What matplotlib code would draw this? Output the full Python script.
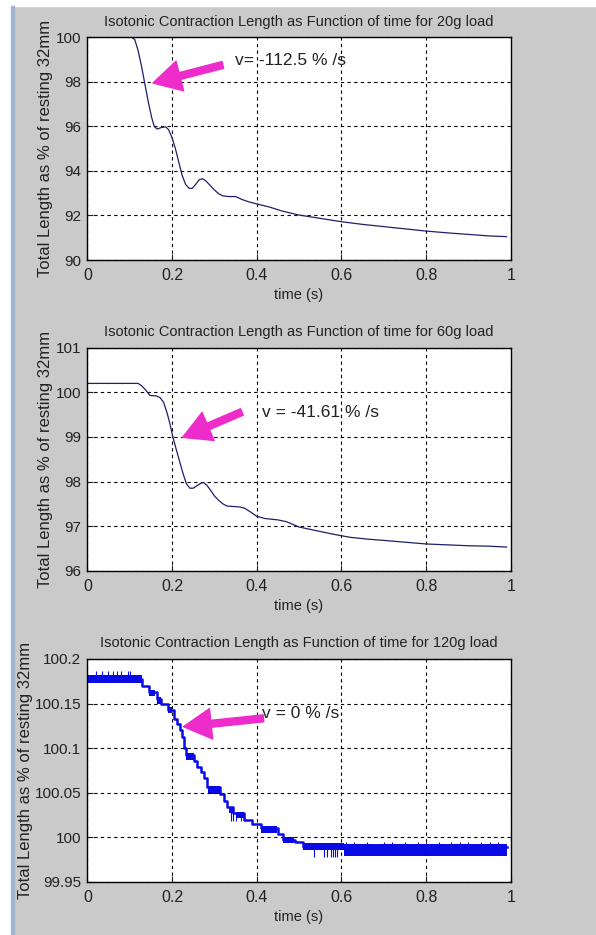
import matplotlib
matplotlib.use("Agg")
import matplotlib.pyplot as plt
from matplotlib.patches import FancyArrowPatch, Rectangle

plt.rcParams['font.family'] = ['Liberation Sans', 'DejaVu Sans']

# 20 g load
t1 = [0, 0.05, 0.105, 0.112, 0.12, 0.128, 0.136, 0.145, 0.152, 0.158, 0.165, 0.175,
      0.185, 0.192, 0.2, 0.208, 0.216, 0.224, 0.232, 0.24, 0.248, 0.256, 0.264, 0.272,
      0.28, 0.29, 0.3, 0.31, 0.32, 0.335, 0.35, 0.365, 0.38, 0.4, 0.43, 0.46, 0.5, 0.55,
      0.6, 0.65, 0.7, 0.75, 0.8, 0.85, 0.9, 0.95, 0.99]
len1 = [100, 100, 100, 99.9, 99.4, 98.7, 97.9, 97.0, 96.4, 96.0, 95.88, 95.95,
        95.98, 95.85, 95.5, 95.0, 94.4, 93.8, 93.4, 93.22, 93.22, 93.4, 93.6, 93.65,
        93.55, 93.35, 93.15, 92.98, 92.88, 92.85, 92.85, 92.72, 92.62, 92.52, 92.38, 92.2, 92.02, 91.87,
        91.72, 91.6, 91.5, 91.4, 91.3, 91.22, 91.15, 91.08, 91.05]

# 60 g load
t2 = [0, 0.12, 0.128, 0.138, 0.148, 0.163, 0.172, 0.18, 0.188, 0.195, 0.202, 0.21,
      0.218, 0.226, 0.234, 0.242, 0.25, 0.258, 0.266, 0.274, 0.282, 0.29, 0.3, 0.31,
      0.32, 0.33, 0.345, 0.36, 0.372, 0.385, 0.4, 0.42, 0.45, 0.47, 0.5, 0.54, 0.58,
      0.62, 0.66, 0.7, 0.75, 0.8, 0.85, 0.9, 0.95, 0.99]
len2 = [100.2, 100.2, 100.15, 100.05, 99.93, 99.92, 99.88, 99.78, 99.55, 99.3, 99.0, 98.72,
        98.45, 98.18, 97.95, 97.85, 97.85, 97.9, 97.95, 97.98, 97.92, 97.82, 97.68, 97.58,
        97.5, 97.45, 97.44, 97.43, 97.4, 97.32, 97.22, 97.17, 97.14, 97.1, 96.98, 96.9, 96.82,
        96.75, 96.71, 96.68, 96.64, 96.6, 96.58, 96.56, 96.55, 96.53]

# 120 g load - quantised signal: step levels, dithering blocks and single-sample spikes
t3 = [0.0, 0.13, 0.145, 0.165, 0.175, 0.19, 0.205, 0.212, 0.218, 0.224, 0.228, 0.232,
      0.252, 0.26, 0.268, 0.276, 0.283, 0.313, 0.322, 0.33, 0.345, 0.37, 0.39, 0.41,
      0.45, 0.462, 0.49, 0.51, 0.99]
len3 = [100.1775, 100.170, 100.1625, 100.155, 100.149, 100.143, 100.133, 100.127, 100.120,
        100.112, 100.100, 100.092, 100.085, 100.079, 100.073, 100.066, 100.056, 100.048,
        100.041, 100.034, 100.027, 100.019, 100.015, 100.010, 100.003, 99.997, 99.995,
        99.989, 99.989]
dither3 = [(0.0, 0.13, 100.173, 100.182),
           (0.145, 0.16, 100.159, 100.165),
           (0.165, 0.175, 100.149, 100.157),
           (0.19, 0.2, 100.139, 100.146),
           (0.232, 0.252, 100.087, 100.095),
           (0.284, 0.313, 100.049, 100.057),
           (0.335, 0.345, 100.027, 100.034),
           (0.35, 0.37, 100.021, 100.028),
           (0.41, 0.447, 100.005, 100.012),
           (0.462, 0.487, 99.993, 100.000),
           (0.51, 0.605, 99.986, 99.993),
           (0.605, 0.99, 99.979, 99.992)]
spike_t3 = [0.02, 0.035, 0.05, 0.06, 0.07, 0.08, 0.095, 0.1,
            0.34, 0.345, 0.35, 0.362,
            0.535, 0.56, 0.567, 0.575, 0.58, 0.585, 0.59,
            0.61, 0.63, 0.66, 0.7, 0.72, 0.75, 0.78, 0.8, 0.83, 0.86, 0.88, 0.9, 0.93, 0.95, 0.97]
spike_lo3 = [100.174] * 8 + [100.018] * 4 + [99.978] * 7 + [99.98] * 15
spike_hi3 = [100.186] * 8 + [100.028] * 4 + [99.99] * 7 + [99.995] * 15

titles = ['Isotonic Contraction Length as Function of time for 20g load',
          'Isotonic Contraction Length as Function of time for 60g load',
          'Isotonic Contraction Length as Function of time for 120g load']
yticks = [[90, 92, 94, 96, 98, 100],
          [96, 97, 98, 99, 100, 101],
          [99.95, 100, 100.05, 100.1, 100.15, 100.2]]
ytick_labels = [['90', '92', '94', '96', '98', '100'],
                ['96', '97', '98', '99', '100', '101'],
                ['99.95', '100', '100.05', '100.1', '100.15', '100.2']]
notes = ['v= -112.5 % /s', 'v = -41.61 % /s', 'v = 0 % /s']
note_xy = [(0.349, 98.98), (0.413, 99.556), (0.413, 100.139)]
arrow_from = [(0.32, 98.76), (0.365, 99.56), (0.416, 100.1334)]
arrow_to = [(0.155, 97.95), (0.225, 98.99), (0.227, 100.124)]
ylabel_x = [-0.08, -0.08, -0.129]

grey = '#cacaca'
magenta = '#ee2bcb'
txt = '#222222'
blue = '#0a0ae6'

fig = plt.figure(figsize=(5.96, 9.35), dpi=100)
fig.patch.set_facecolor(grey)

# window frame on the left and top
W, H = 596.0, 935.0
fig.patches.append(Rectangle((0, 0), 11 / W, 1, transform=fig.transFigure, color='white', zorder=-1))
fig.patches.append(Rectangle((0, 1 - 6 / H), 1, 6 / H, transform=fig.transFigure, color='white', zorder=-1))
fig.patches.append(Rectangle((11 / W, 0), 2.5 / W, 1 - 6 / H, transform=fig.transFigure, color='#9fb4cf', zorder=-1))

positions = [[0.1465, 0.7219, 0.7105, 0.2382],
             [0.1465, 0.3896, 0.7105, 0.2385],
             [0.1465, 0.0570, 0.7105, 0.2382]]

axes = [fig.add_axes(p) for p in positions]

axes[0].plot(t1, len1, color='#1f1f6a', lw=0.9)
axes[1].plot(t2, len2, color='#1f1f6a', lw=0.9)

ax = axes[2]
ax.step(t3, len3, where='post', color=blue, lw=1.8)
for a, b, lo, hi in dither3:
    ax.fill_between([a, b], lo, hi, color=blue, lw=0)
ax.vlines(spike_t3, spike_lo3, spike_hi3, color=blue, lw=0.8)

for i, ax in enumerate(axes):
    ax.set_xlim(0, 1)
    ax.set_ylim(yticks[i][0], yticks[i][-1])
    ax.set_xticks([0, 0.2, 0.4, 0.6, 0.8, 1])
    ax.set_xticklabels(['0', '0.2', '0.4', '0.6', '0.8', '1'])
    ax.set_yticks(yticks[i])
    ax.set_yticklabels(ytick_labels[i])
    ax.tick_params(direction='in', length=4, labelsize=11.5, colors=txt)
    ax.tick_params(axis='y', labelsize=11, pad=4.5)
    ax.tick_params(axis='x', pad=6)
    ax.grid(True, color='black', linestyle=(0, (3, 3)), lw=0.8)
    for s in ax.spines.values():
        s.set_linewidth(1.0)
    ax.set_title(titles[i], fontsize=10.5, color=txt, pad=8.5)
    ax.set_xlabel('time (s)', fontsize=10.5, color=txt, labelpad=3.5)
    ax.set_ylabel('Total Length as % of resting 32mm', fontsize=12, color=txt)
    ax.yaxis.set_label_coords(ylabel_x[i], 0.5)
    ax.text(note_xy[i][0], note_xy[i][1], notes[i], fontsize=12.5, color=txt, va='center')
    ax.add_patch(FancyArrowPatch(arrow_from[i], arrow_to[i],
                                 arrowstyle='simple,head_length=20,head_width=22,tail_width=5',
                                 color=magenta, shrinkA=0, shrinkB=0, zorder=5))

fig.savefig('out.png', dpi=100, facecolor=fig.get_facecolor())
